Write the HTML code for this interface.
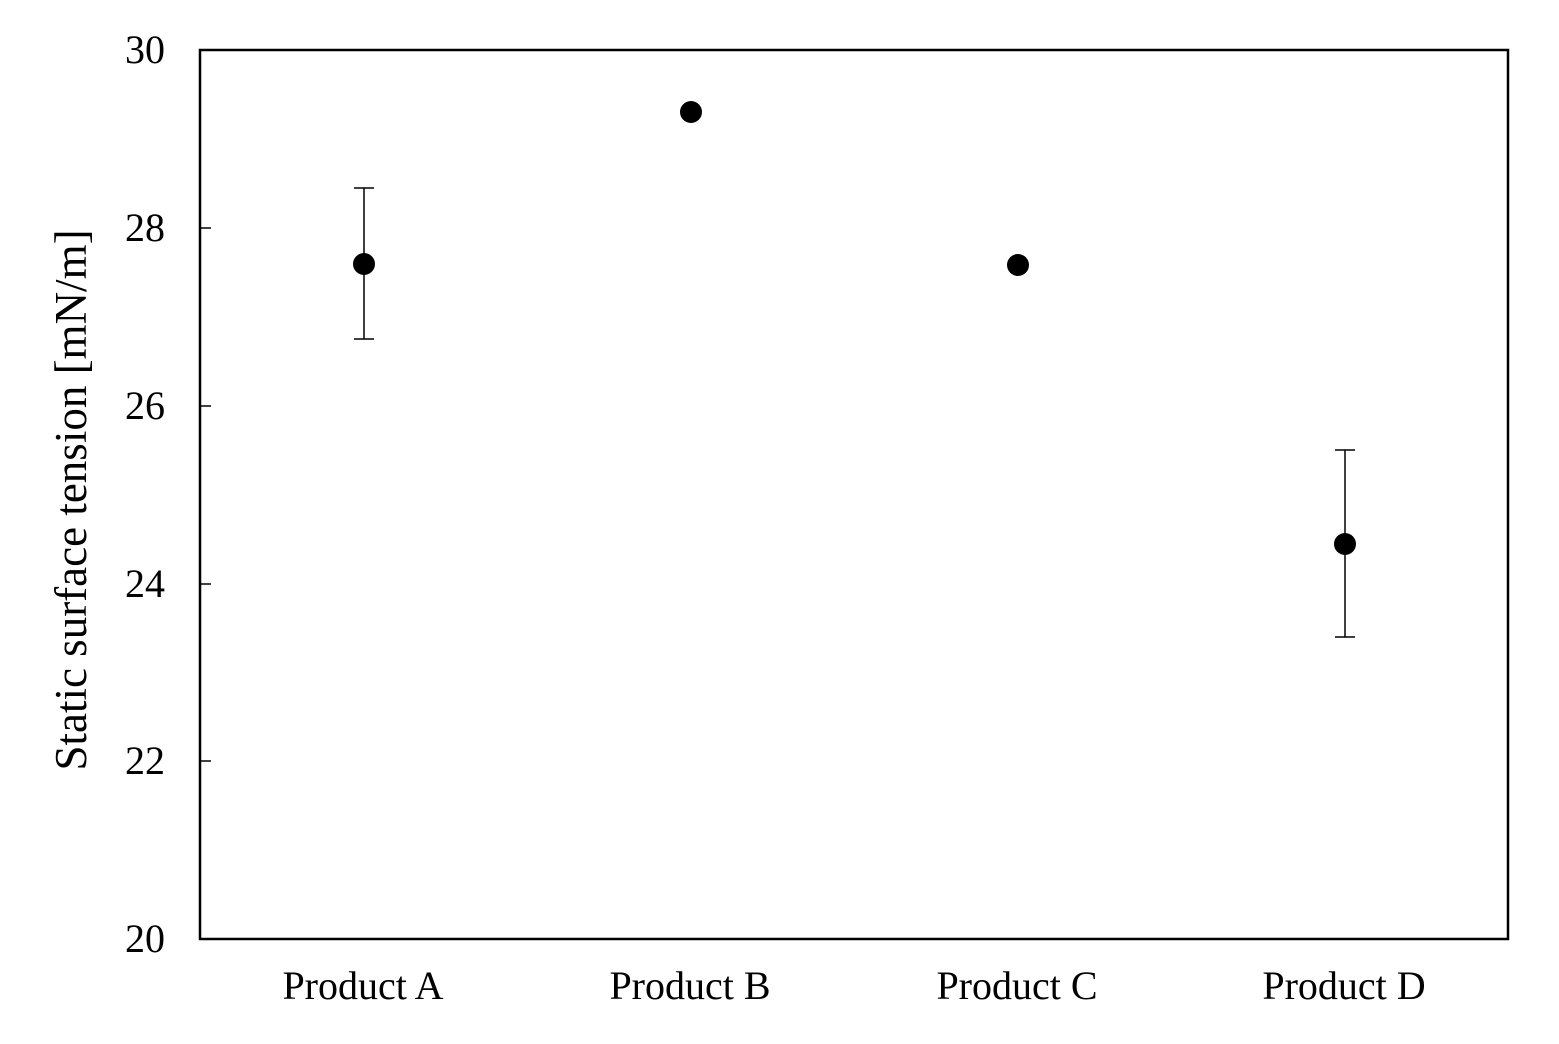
<!DOCTYPE html>
<html><head><style>body{margin:0;background:#fff}</style></head><body>
<svg width="1559" height="1039" xmlns="http://www.w3.org/2000/svg" font-family="Liberation Serif, serif">
<rect x="200" y="50" width="1308" height="889" fill="none" stroke="#000" stroke-width="2.5"/>
<g stroke="#000" stroke-width="1.5">
<line x1="200" y1="228" x2="211" y2="228"/>
<line x1="200" y1="406" x2="211" y2="406"/>
<line x1="200" y1="584" x2="211" y2="584"/>
<line x1="200" y1="761" x2="211" y2="761"/>
<line x1="364" y1="188" x2="364" y2="339"/><line x1="354" y1="188" x2="374" y2="188"/><line x1="354" y1="339" x2="374" y2="339"/>
<line x1="1345" y1="450" x2="1345" y2="637"/><line x1="1335" y1="450" x2="1355" y2="450"/><line x1="1335" y1="637" x2="1355" y2="637"/>
</g>
<g fill="#000">
<circle cx="364" cy="264" r="11"/>
<circle cx="691" cy="112" r="11"/>
<circle cx="1018" cy="265" r="11"/>
<circle cx="1345" cy="544" r="11"/>
</g>
<g font-size="40" text-anchor="end">
<text x="165" y="63">30</text><text x="165" y="241">28</text><text x="165" y="419">26</text>
<text x="165" y="597">24</text><text x="165" y="774">22</text><text x="165" y="952">20</text>
</g>
<g font-size="40" text-anchor="middle">
<text x="363" y="999">Product A</text><text x="690" y="999">Product B</text>
<text x="1017" y="999">Product C</text><text x="1344" y="999">Product D</text>
</g>
<text transform="translate(86,500) rotate(-90)" font-size="45" text-anchor="middle">Static surface tension [mN/m]</text>
</svg>
</body></html>
